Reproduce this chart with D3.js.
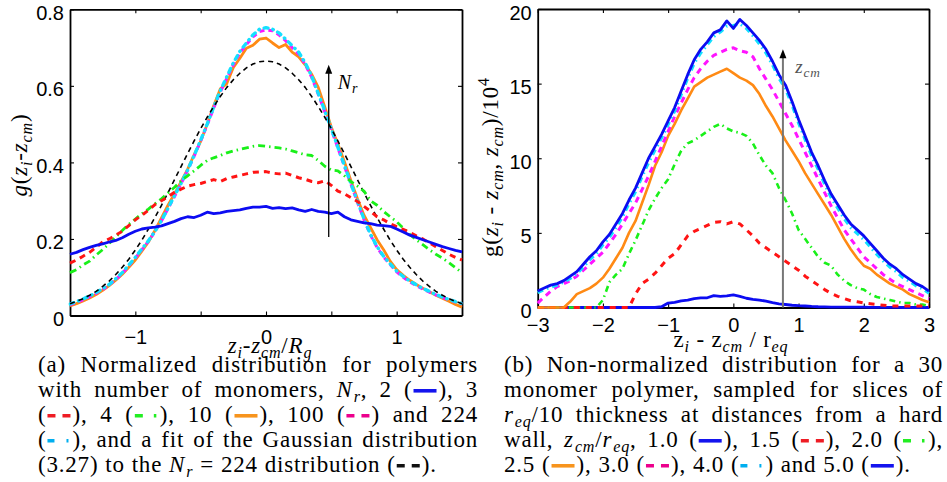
<!DOCTYPE html>
<html>
<head>
<meta charset="utf-8">
<script src="https://cdn.jsdelivr.net/npm/d3@7"></script>
<style>
  body { margin: 0; background: #fff; }
  svg { display: block; }
  text { white-space: pre; }
</style>
</head>
<body>
<svg id="chart" width="947" height="482"></svg>
<script>
// ---- data, panel (a): normalized distributions, x = (z_i - z_cm)/R_g ----
const gridA = [-1.5,-1.45,-1.4,-1.35,-1.3,-1.25,-1.2,-1.15,-1.1,-1.05,-1,-0.95,-0.9,-0.85,-0.8,-0.75,-0.7,-0.65,-0.6,-0.55,-0.5,-0.45,-0.4,-0.35,-0.3,-0.25,-0.2,-0.15,-0.1,-0.05,0,0.05,0.1,0.15,0.2,0.25,0.3,0.35,0.4,0.45,0.5,0.55,0.6,0.65,0.7,0.75,0.8,0.85,0.9,0.95,1,1.05,1.1,1.15,1.2,1.25,1.3,1.35,1.4,1.45,1.5];
const distN2 = [0.160,0.165,0.172,0.178,0.183,0.187,0.192,0.196,0.203,0.212,0.220,0.226,0.229,0.231,0.234,0.240,0.246,0.253,0.258,0.256,0.262,0.270,0.266,0.268,0.272,0.274,0.276,0.280,0.283,0.283,0.285,0.280,0.282,0.279,0.281,0.276,0.272,0.277,0.272,0.270,0.266,0.270,0.258,0.250,0.246,0.242,0.240,0.236,0.235,0.233,0.226,0.218,0.210,0.204,0.198,0.192,0.186,0.180,0.175,0.170,0.166];
const distN3 = [0.137,0.145,0.155,0.165,0.178,0.192,0.200,0.210,0.220,0.235,0.250,0.262,0.275,0.290,0.300,0.310,0.322,0.330,0.338,0.342,0.345,0.350,0.355,0.350,0.358,0.362,0.366,0.370,0.374,0.375,0.376,0.372,0.370,0.372,0.366,0.360,0.356,0.350,0.347,0.352,0.340,0.325,0.318,0.308,0.298,0.285,0.272,0.258,0.250,0.240,0.232,0.225,0.217,0.208,0.200,0.190,0.180,0.170,0.160,0.152,0.145];
const distN4 = [0.112,0.120,0.132,0.142,0.158,0.172,0.188,0.205,0.222,0.238,0.252,0.266,0.278,0.292,0.305,0.320,0.335,0.352,0.365,0.378,0.392,0.405,0.412,0.418,0.425,0.430,0.434,0.438,0.442,0.444,0.442,0.440,0.438,0.435,0.430,0.425,0.420,0.418,0.405,0.390,0.380,0.378,0.365,0.350,0.338,0.325,0.300,0.288,0.272,0.258,0.245,0.228,0.212,0.198,0.185,0.172,0.160,0.150,0.138,0.125,0.112];
const distN10 = [0.025,0.031,0.038,0.046,0.055,0.066,0.078,0.092,0.108,0.126,0.145,0.168,0.192,0.222,0.255,0.288,0.318,0.350,0.382,0.420,0.455,0.500,0.548,0.592,0.606,0.648,0.672,0.698,0.706,0.722,0.725,0.712,0.700,0.708,0.688,0.676,0.655,0.630,0.596,0.545,0.492,0.448,0.402,0.352,0.305,0.262,0.230,0.198,0.172,0.142,0.120,0.105,0.092,0.081,0.071,0.062,0.053,0.045,0.037,0.029,0.022];
const distN100 = [0.028,0.034,0.041,0.049,0.058,0.068,0.080,0.094,0.110,0.130,0.150,0.172,0.194,0.219,0.247,0.279,0.311,0.344,0.379,0.416,0.456,0.498,0.542,0.584,0.620,0.655,0.686,0.708,0.728,0.742,0.746,0.744,0.733,0.718,0.700,0.683,0.656,0.622,0.578,0.532,0.486,0.438,0.390,0.343,0.296,0.250,0.210,0.178,0.153,0.133,0.114,0.100,0.088,0.078,0.069,0.061,0.054,0.047,0.041,0.035,0.030];
const distN224 = [0.030,0.036,0.043,0.051,0.060,0.070,0.081,0.096,0.112,0.132,0.152,0.174,0.195,0.220,0.248,0.280,0.313,0.345,0.380,0.418,0.458,0.500,0.545,0.587,0.624,0.660,0.690,0.712,0.733,0.748,0.752,0.748,0.738,0.722,0.705,0.688,0.660,0.625,0.580,0.535,0.488,0.440,0.392,0.345,0.298,0.252,0.212,0.180,0.155,0.135,0.116,0.102,0.090,0.080,0.071,0.063,0.055,0.048,0.042,0.036,0.031];
const gaussFit = [0.031,0.037,0.044,0.053,0.063,0.076,0.090,0.107,0.126,0.147,0.171,0.197,0.226,0.256,0.288,0.321,0.355,0.389,0.423,0.456,0.488,0.518,0.546,0.572,0.596,0.616,0.633,0.647,0.657,0.663,0.665,0.663,0.657,0.647,0.633,0.616,0.596,0.572,0.546,0.518,0.488,0.456,0.423,0.389,0.355,0.321,0.288,0.256,0.226,0.197,0.171,0.147,0.126,0.107,0.090,0.076,0.063,0.053,0.044,0.037,0.031];
const ticksXA = [-1, -0.5, 0, 0.5, 1];
const labelsXA = [-1, 0, 1];
const ticksYA = [0, 0.2, 0.4, 0.6, 0.8];

// ---- data, panel (b): non-normalized, x = (z_i - z_cm)/r_eq, y in units of 10^4 ----
const gridB = [-3,-2.9,-2.8,-2.7,-2.6,-2.5,-2.4,-2.3,-2.2,-2.1,-2,-1.9,-1.8,-1.7,-1.6,-1.5,-1.4,-1.3,-1.2,-1.1,-1,-0.9,-0.8,-0.7,-0.6,-0.5,-0.4,-0.3,-0.2,-0.1,0,0.1,0.2,0.3,0.4,0.5,0.6,0.7,0.8,0.9,1,1.1,1.2,1.3,1.4,1.5,1.6,1.7,1.8,1.9,2,2.1,2.2,2.3,2.4,2.5,2.6,2.7,2.8,2.9,3];
const wall10 = [0,0,0,0,0,0,0,0,0,0,0,0,0,0,0,0,0,0,0,0.05,0.3,0.35,0.45,0.5,0.6,0.65,0.65,0.8,0.75,0.78,0.85,0.75,0.62,0.55,0.5,0.42,0.32,0.25,0.2,0.15,0.12,0.1,0.07,0.05,0.04,0.03,0.03,0.02,0.02,0.02,0.02,0.01,0.01,0.01,0.01,0.01,0,0,0,0,0];
const wall15 = [0,0,0,0,0,0,0,0,0,0,0,0,0,0,0,0.9,1.6,1.9,2.3,2.8,3.3,3.6,4.2,4.8,5.1,5.3,5.5,5.7,5.75,5.6,5.75,5.6,5.2,4.8,4.3,4.0,3.7,3.4,3.1,2.8,2.5,2.1,1.8,1.5,1.2,0.95,0.75,0.6,0.45,0.38,0.3,0.25,0.2,0.15,0.1,0.1,0.1,0.1,0.1,0.1,0.1];
const wall20 = [0,0,0,0,0,0,0,0,0,0,0.5,1.7,2.2,2.6,3.6,4.5,5.5,6.5,7.3,8.0,8.6,9.6,10.5,11.0,11.2,11.5,11.8,12.1,12.3,12.0,11.8,11.7,11.5,11.0,10.2,9.5,9.0,8.0,7.2,6.3,5.2,4.6,4.0,3.4,3.0,2.8,2.2,1.8,1.5,1.3,1.2,0.9,0.7,0.6,0.5,0.4,0.3,0.3,0.2,0.2,0.1];
const wall25 = [0,0,0,0,0,0.4,0.9,1.1,1.3,1.6,2.0,2.6,3.3,4.0,5.0,5.8,7.0,8.2,9.5,10.4,11.5,12.3,13.2,14.0,14.8,15.1,15.4,15.6,15.8,16.0,15.7,15.4,15.2,14.9,14.3,13.5,12.8,12.0,11.2,10.5,9.8,9.0,8.3,7.6,6.9,6.2,5.4,4.6,3.9,3.3,2.8,2.6,2.2,1.9,1.6,1.4,1.2,0.9,0.7,0.5,0.35];
const wall30 = [0.3,0.7,1.1,1.4,1.6,1.8,2.1,2.5,2.9,3.3,3.7,4.3,4.9,5.6,6.3,7.0,7.9,8.8,9.8,10.8,11.8,12.8,13.7,14.6,15.4,16.0,16.5,16.9,17.1,17.3,17.4,17.2,17.1,16.8,16.0,15.3,14.6,13.8,13.0,12.2,11.3,10.4,9.5,8.6,7.7,6.8,6.0,5.2,4.6,4.0,3.4,3.0,2.6,2.2,1.9,1.6,1.4,1.2,1.0,0.8,0.6];
const wall40 = [1.0,1.2,1.35,1.5,1.7,1.95,2.25,2.7,3.2,3.6,4.2,4.7,5.35,6.05,6.95,7.75,8.75,9.7,10.55,11.35,12.25,13.15,14.25,15.35,16.35,17.05,17.6,18.15,18.45,18.85,18.9,19.0,18.7,18.2,17.65,17.05,16.25,15.35,14.65,13.55,12.35,11.25,10.15,9.25,8.25,7.35,6.65,5.95,5.35,4.95,4.55,4.05,3.55,3.1,2.7,2.4,2.0,1.75,1.45,1.25,0.95];
const wall50 = [1.1,1.3,1.5,1.6,1.8,2.1,2.4,2.9,3.4,3.8,4.4,4.9,5.6,6.3,7.2,8.0,9.0,10.0,10.8,11.6,12.5,13.4,14.5,15.6,16.6,17.3,17.8,18.4,18.6,19.2,18.7,19.3,18.9,18.4,17.9,17.3,16.5,15.6,14.9,13.8,12.6,11.5,10.4,9.5,8.5,7.6,6.9,6.2,5.6,5.2,4.8,4.3,3.8,3.3,2.9,2.6,2.2,1.9,1.6,1.4,1.1];
const ticksXB = [-3, -2, -1, 0, 1, 2, 3];
const ticksYB = [0, 5, 10, 15, 20];

// arrows drawn inside the panels: x, from-y, to-y
const arrowA = [0.48, 0.205, 0.655];
const arrowB = [0.76, 0, 17.3];

const C = {
  blue: "#0c0cf2", red: "#ff1414", green: "#19f019", orange: "#ff8a14",
  magenta: "#ff14ff", cyan: "#14e0ff", black: "#000"
};

const seriesA = [
  { values: distN10, color: C.orange, width: 2.8 },
  { values: distN100, color: C.magenta, width: 3, dash: "5,4" },
  { values: distN224, color: C.cyan, width: 3.4, dash: "4,5,0.5,5", cap: "round" },
  { values: gaussFit, color: C.black, width: 1.6, dash: "5,4" },
  { values: distN4, color: C.green, width: 2.8, dash: "7,4,1.5,4" },
  { values: distN3, color: C.red, width: 3, dash: "6,5" },
  { values: distN2, color: C.blue, width: 2.8 }
];

const seriesB = [
  { values: wall10, color: C.blue, width: 2.8 },
  { values: wall20, color: C.green, width: 2.6, dash: "6,4,1.5,4" },
  { values: wall15, color: C.red, width: 3, dash: "6,6" },
  { values: wall25, color: C.orange, width: 2.6 },
  { values: wall30, color: C.magenta, width: 3, dash: "6,5" },
  { values: wall40, color: C.cyan, width: 3, dash: "6,4,1.5,4" },
  { values: wall50, color: C.blue, width: 2.8 }
];

// caption legend samples
const samples = {
  blue: { color: "#1414ee" },
  red: { color: "#ee1c24", dash: "8,7" },
  green: { color: "#22ee22", dash: "8,11,2.5,30" },
  orange: { color: "#f7941d" },
  pink: { color: "#ec008c", dash: "8,7" },
  cyan: { color: "#00aeef", dash: "7,12,2,30" },
  black: { color: "#111", dash: "8,7" }
};

const captionA = [
  "(a) Normalized distribution for polymers",
  "with number of monomers, $N_r$, 2 ([blue]), 3",
  "([red]), 4 ([green]), 10 ([orange]), 100 ([pink]) and 224",
  "([cyan]), and a fit of the Gaussian distribution",
  "(3.27) to the $N_r$ = 224 distribution ([black])."
];
const captionB = [
  "(b) Non-normalized distribution for a 30",
  "monomer polymer, sampled for slices of",
  "$r_{eq}$/10 thickness at distances from a hard",
  "wall, $z_{cm}$/$r_{eq}$, 1.0 ([blue]), 1.5 ([red]), 2.0 ([green]),",
  "2.5 ([orange]), 3.0 ([pink]), 4.0 ([cyan]) and 5.0 ([blue])."
];

const svg = d3.select("#chart");
const SERIF = "Liberation Serif, DejaVu Serif, serif";
const SANS = "Liberation Sans, Arial, sans-serif";

// tiny markup: $..$ italic, _x / _{..} subscript, ^x superscript, [key] legend sample
function parseRich(str) {
  const parts = [];
  let italic = false, buf = "";
  const flush = () => { if (buf) { parts.push({ text: buf, italic, shift: 0 }); buf = ""; } };
  for (let i = 0; i < str.length; i++) {
    const c = str[i];
    if (c === "$") { flush(); italic = !italic; }
    else if (c === "_" || c === "^") {
      flush();
      let t;
      if (str[i + 1] === "{") { const j = str.indexOf("}", i); t = str.slice(i + 2, j); i = j; }
      else { t = str[i + 1]; i++; }
      parts.push({ text: t, italic, shift: c === "_" ? 1 : -1 });
    } else if (c === "[") {
      flush();
      const j = str.indexOf("]", i);
      parts.push({ sample: str.slice(i + 1, j) });
      i = j;
    } else buf += c;
  }
  flush();
  return parts;
}

// word by word renderer (used where widths are needed, i.e. the justified captions)
function renderRich(g, str, fs, spacing) {
  let x = 0;
  for (const p of parseRich(str)) {
    if (p.sample) {
      const s = samples[p.sample];
      g.append("line")
        .attr("x1", x + 1).attr("x2", x + 24)
        .attr("y1", -fs * 0.27).attr("y2", -fs * 0.27)
        .attr("stroke", s.color).attr("stroke-width", 3.6)
        .attr("stroke-dasharray", s.dash || null);
      x += 26;
      continue;
    }
    const size = p.shift ? fs * 0.7 : fs;
    const t = g.append("text")
      .attr("x", x)
      .attr("y", p.shift === 1 ? fs * 0.22 : p.shift === -1 ? -fs * 0.4 : 0)
      .style("font-family", SERIF)
      .style("font-size", size + "px")
      .style("font-style", p.italic ? "italic" : "normal")
      .style("letter-spacing", spacing + "px")
      .attr("fill", "#000")
      .text(p.text);
    x += t.node().getComputedTextLength() + (p.italic && !p.shift ? 1 : 0);
  }
  return x;
}

// single text element with tspans, for titles and notes
function renderTitle(g, str, fs, anchor = "middle", color = "#000") {
  const t = g.append("text")
    .attr("text-anchor", anchor)
    .attr("fill", color)
    .style("font-family", SERIF)
    .style("font-size", fs + "px")
    .style("letter-spacing", "0.8px");
  let offset = 0;
  for (const p of parseRich(str)) {
    const target = p.shift === 1 ? fs * 0.22 : p.shift === -1 ? -fs * 0.4 : 0;
    t.append("tspan")
      .attr("dy", target - offset)
      .style("font-size", (p.shift ? fs * 0.7 : fs) + "px")
      .style("font-style", p.italic ? "italic" : "normal")
      .text(p.text);
    offset = target;
  }
  return t;
}

function drawPanel(cfg) {
  const { box, grid, series } = cfg;
  const x = d3.scaleLinear().domain(cfg.xDomain).range([box.left, box.right]);
  const y = d3.scaleLinear().domain(cfg.yDomain).range([box.bottom, box.top]);
  const g = svg.append("g");

  g.append("clipPath").attr("id", cfg.id)
    .append("rect")
    .attr("x", box.left - 1.5).attr("y", box.top - 1.5)
    .attr("width", box.right - box.left + 3).attr("height", box.bottom - box.top + 3);

  const fmt = d3.format("");
  const axes = [
    [d3.axisBottom(x).tickValues(cfg.xTicks).tickPadding(cfg.xPad)
      .tickFormat(d => cfg.xLabels.includes(d) ? fmt(d) : ""), `translate(0,${box.bottom})`],
    [d3.axisTop(x).tickValues(cfg.xTicks).tickFormat(""), `translate(0,${box.top})`],
    [d3.axisLeft(y).tickValues(cfg.yTicks).tickPadding(6).tickFormat(fmt), `translate(${box.left},0)`],
    [d3.axisRight(y).tickValues(cfg.yTicks).tickFormat(""), `translate(${box.right},0)`]
  ];
  axes.forEach(([axis, tr], k) => {
    const a = g.append("g").attr("transform", tr)
      .call(axis.tickSizeInner(-4).tickSizeOuter(0));
    a.select(".domain").attr("stroke-width", 1.8);
    a.selectAll(".tick line").attr("stroke-width", 1.1);
    a.selectAll("text").attr("font-family", SANS).attr("font-size", 20).attr("fill", "#000");
    if (k === 2) a.selectAll("text").attr("dy", "0.5em");
  });

  const line = d3.line().x((d, i) => x(grid[i])).y(d => y(d));
  g.append("g").attr("clip-path", `url(#${cfg.id})`)
    .selectAll("path")
    .data(series)
    .join("path")
    .attr("d", d => line(d.values))
    .attr("fill", "none")
    .attr("stroke", d => d.color)
    .attr("stroke-width", d => d.width)
    .attr("stroke-dasharray", d => d.dash || null)
    .attr("stroke-linecap", d => d.cap || "butt")
    .attr("stroke-linejoin", "round");

  // arrow annotation
  const [ax, ay0, ay1] = cfg.arrow;
  const px = x(ax), py0 = y(ay0), py1 = y(ay1);
  g.append("line")
    .attr("x1", px).attr("x2", px).attr("y1", py0).attr("y2", py1 + 6)
    .attr("stroke", cfg.arrowColor).attr("stroke-width", cfg.arrowWidth);
  g.append("path")
    .attr("d", `M${px},${py1} L${px - 3.5},${py1 + 9} L${px + 3.5},${py1 + 9} Z`)
    .attr("fill", "#000");

  renderTitle(g, cfg.note[2], cfg.noteSize, "start", cfg.noteColor)
    .attr("x", x(cfg.note[0])).attr("y", y(cfg.note[1]));

  // axis titles
  renderTitle(g, cfg.xTitle, 23)
    .attr("x", cfg.xTitlePos[0]).attr("y", cfg.xTitlePos[1]);
  renderTitle(g.append("g")
      .attr("transform", `translate(${cfg.yTitlePos[0]},${cfg.yTitlePos[1]}) rotate(-90)`),
    cfg.yTitle, 23);
}

drawPanel({
  id: "clipA", box: { left: 70, right: 462, top: 9.3, bottom: 315.5 },
  grid: gridA, series: seriesA, xDomain: [-1.5, 1.5], yDomain: [0, 0.8],
  xTicks: ticksXA, xLabels: labelsXA, yTicks: ticksYA, xPad: 14,
  arrow: arrowA, arrowColor: "#000", arrowWidth: 1.3,
  note: [0.55, 0.592, "$N_r$"], noteSize: 20, noteColor: "#000",
  xTitle: "$z_i$-$z_{cm}$/$R_g$", xTitlePos: [270, 353],
  yTitle: "$g$($z_i$-$z_{cm}$)", yTitlePos: [27, 155]
});

drawPanel({
  id: "clipB", box: { left: 537.7, right: 929, top: 9, bottom: 307.5 },
  grid: gridB, series: seriesB, xDomain: [-3, 3], yDomain: [0, 20],
  xTicks: ticksXB, xLabels: ticksXB, yTicks: ticksYB, xPad: 10.5,
  arrow: arrowB, arrowColor: "#777", arrowWidth: 2,
  note: [0.95, 15.7, "$z_{cm}$"], noteSize: 19, noteColor: "#555",
  xTitle: "z$_i$ - z$_{cm}$ / r$_{eq}$", xTitlePos: [731, 347],
  yTitle: "g($z_i$ - $z_{cm}$, $z_{cm}$)/10^4", yTitlePos: [498, 167]
});

// justified captions; a line that would not fit is squeezed instead
function drawCaption(lines, x0, x1, top) {
  const fs = 23, minGap = 4;
  lines.forEach((text, li) => {
    const row = svg.append("g");
    const words = text.split(" ").map(w => {
      const g = row.append("g");
      return { g, w: renderRich(g, w, fs, 0.8) };
    });
    const total = d3.sum(words, d => d.w);
    const last = li === lines.length - 1;
    const avail = x1 - x0;
    let gap = last ? fs * 0.3 : (avail - total) / (words.length - 1);
    gap = Math.max(gap, minGap);
    let x = 0;
    for (const d of words) {
      d.g.attr("transform", `translate(${x},0)`);
      x += d.w + gap;
    }
    const width = x - gap;
    const sx = width > avail ? avail / width : 1;
    row.attr("transform", `translate(${x0},${top + li * 25}) scale(${sx},1)`);
  });
}
drawCaption(captionA, 38, 478, 372);
drawCaption(captionB, 504, 943, 372);
</script>
</body>
</html>
